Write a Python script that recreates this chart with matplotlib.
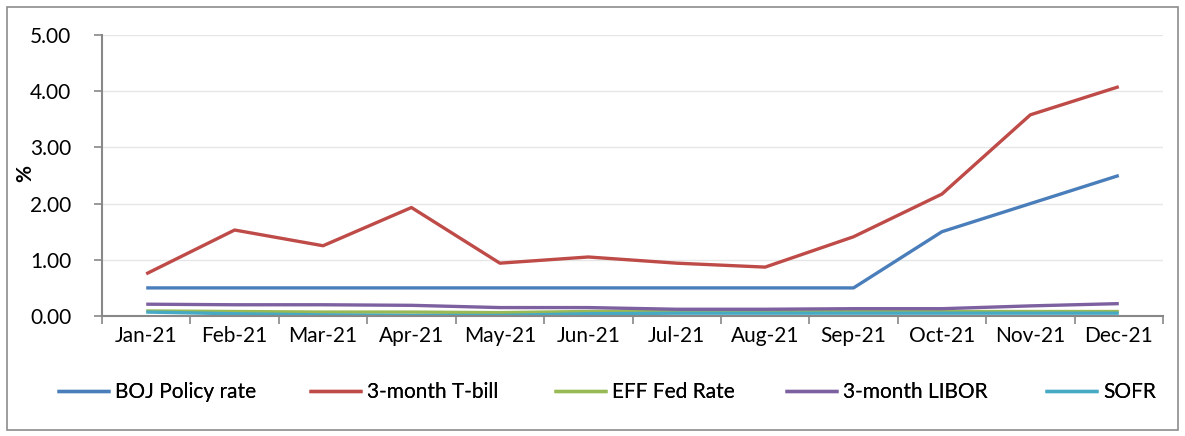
import matplotlib
matplotlib.use("Agg")
import matplotlib.pyplot as plt
from matplotlib.patches import Rectangle

months = ["Jan-21", "Feb-21", "Mar-21", "Apr-21", "May-21", "Jun-21",
          "Jul-21", "Aug-21", "Sep-21", "Oct-21", "Nov-21", "Dec-21"]
boj = [0.50, 0.50, 0.50, 0.50, 0.50, 0.50, 0.50, 0.50, 0.50, 1.50, 2.00, 2.50]
tbill = [0.75, 1.53, 1.25, 1.93, 0.94, 1.05, 0.94, 0.87, 1.41, 2.17, 3.58, 4.08]
eff = [0.09, 0.08, 0.07, 0.07, 0.06, 0.08, 0.09, 0.09, 0.08, 0.08, 0.08, 0.08]
libor = [0.21, 0.20, 0.20, 0.19, 0.15, 0.15, 0.12, 0.12, 0.13, 0.13, 0.18, 0.22]
sofr = [0.07, 0.04, 0.02, 0.01, 0.01, 0.04, 0.05, 0.05, 0.05, 0.05, 0.05, 0.05]

plt.rcParams['font.family'] = ['Lato', 'DejaVu Sans']

fig = plt.figure(figsize=(11.85, 4.36), dpi=100)
ax = fig.add_axes([102/1185, 1 - 316/436, (1163-102)/1185, (316-35)/436])

x = list(range(len(months)))
series = [
    ("BOJ Policy rate", boj, "#4a7ebb"),
    ("3-month T-bill", tbill, "#be4b48"),
    ("EFF Fed Rate", eff, "#98b954"),
    ("3-month LIBOR", libor, "#7d60a0"),
    ("SOFR", sofr, "#46aac5"),
]
lines = []
for name, vals, c in series:
    ln, = ax.plot(x, vals, color=c, lw=2.4, label=name, solid_capstyle='butt')
    lines.append(ln)

ax.set_xlim(-0.5, len(months) - 0.5)
ax.set_ylim(0, 5)
ax.set_yticks([0, 1, 2, 3, 4, 5])
ax.set_yticklabels([f"{v:.2f}" for v in range(6)], fontsize=15)
ax.set_xticks(x)
ax.set_xticklabels(months, fontsize=15)
ax.tick_params(axis='x', length=0, pad=7)
ax.set_xticks([i - 0.5 for i in range(len(months) + 1)], minor=True)
ax.tick_params(axis='x', which='minor', length=6, color='#888888', width=1.2)
ax.tick_params(axis='y', length=6, color='#888888', width=1.2, pad=16)
ax.grid(axis='y', color='#e6e6e6', lw=1)
ax.set_axisbelow(True)
for s in ['top', 'right']:
    ax.spines[s].set_visible(False)
for s in ['left', 'bottom']:
    ax.spines[s].set_color('#888888')
    ax.spines[s].set_linewidth(1.5)
ax.set_ylabel("%", fontsize=15, fontweight='bold')
ax.yaxis.set_label_coords(35/1185, 1 - 173/436, transform=fig.transFigure)

leg_x = [57, 309, 554, 785, 1045]
for ln, lx in zip(lines, leg_x):
    lg = fig.legend(handles=[ln], loc='center left',
                    bbox_to_anchor=(lx/1185, 1 - 392/436),
                    frameon=False, fontsize=15, handlelength=2.55,
                    handletextpad=0.25, borderpad=0, borderaxespad=0)
    fig.add_artist(lg)

fig.patches.append(Rectangle((7/1185, 1 - 430/436), (1178-7)/1185, (430-7)/436,
                             transform=fig.transFigure, fill=False,
                             edgecolor='#8c8c8c', lw=1.2))

fig.savefig("out.png", dpi=100)
